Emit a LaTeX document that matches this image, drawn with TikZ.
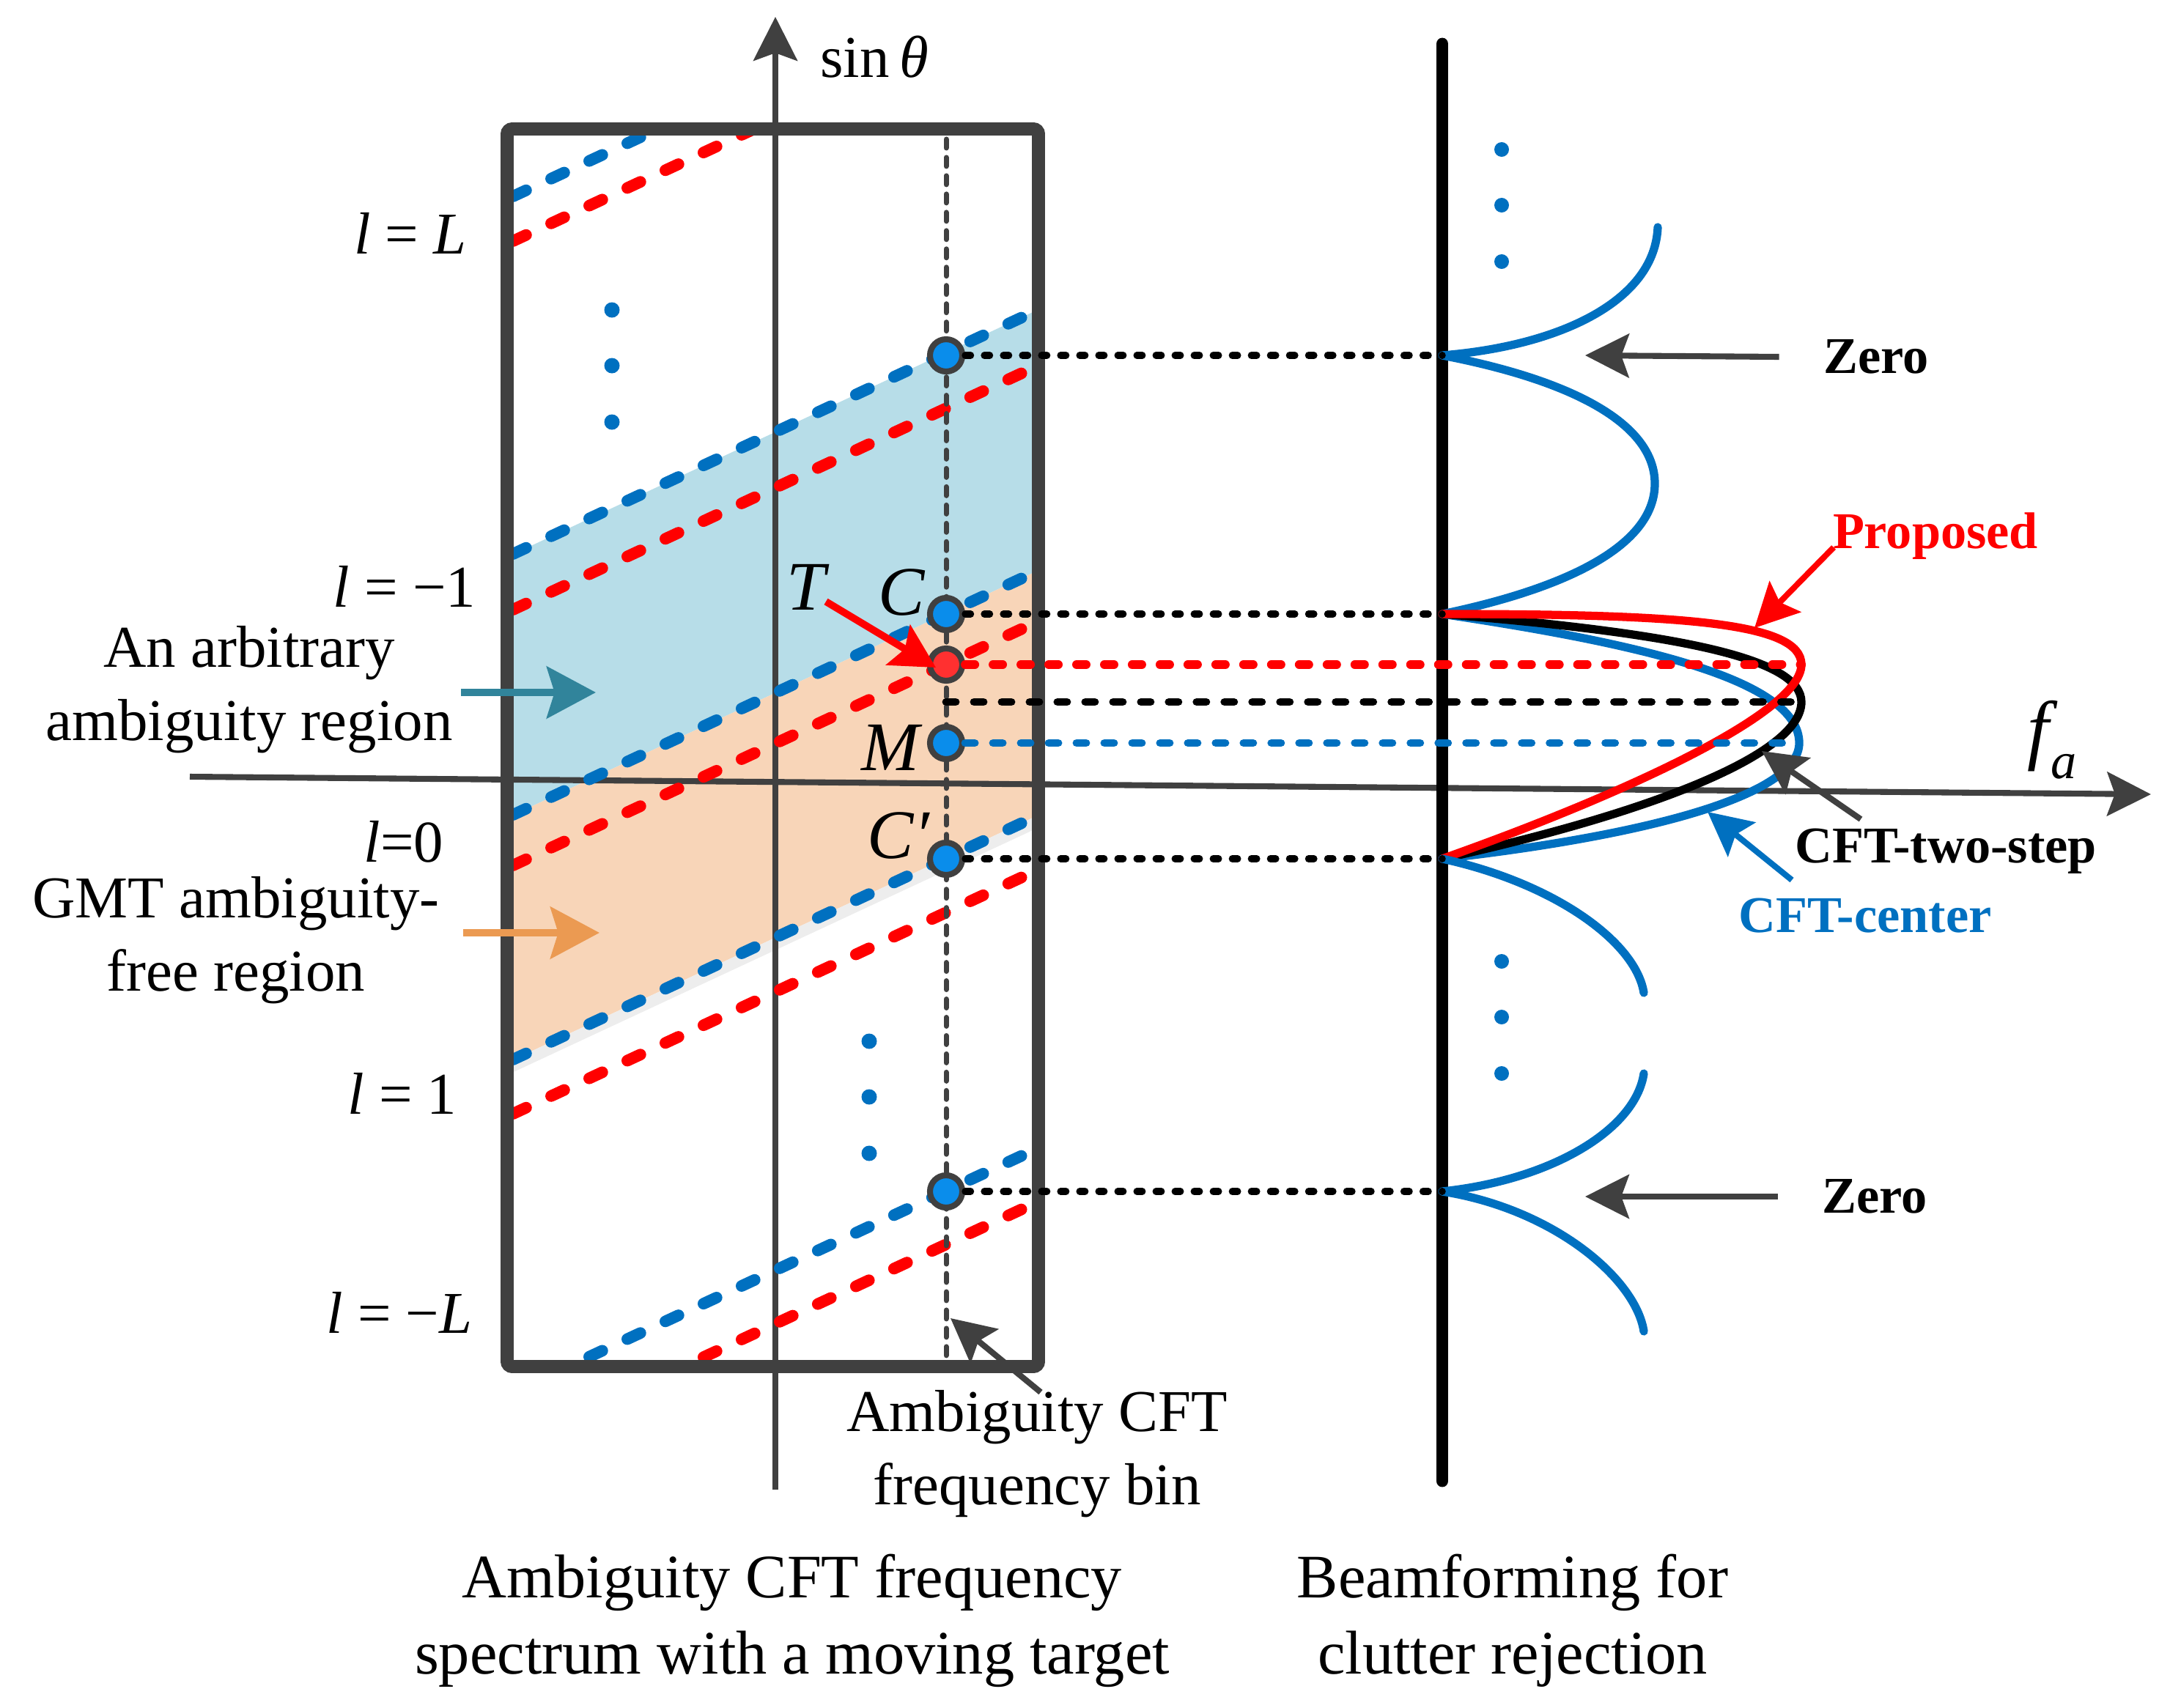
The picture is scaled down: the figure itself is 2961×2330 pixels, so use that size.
\documentclass[tikz,border=0pt]{standalone}
\usepackage{fontspec}
\setmainfont{Liberation Serif}
\usetikzlibrary{arrows.meta}

\definecolor{cBlue}{HTML}{0070C0}
\definecolor{cRed}{HTML}{FF0000}
\definecolor{cGray}{HTML}{404040}
\definecolor{cFillBlue}{HTML}{B7DDE8}
\definecolor{cFillOrange}{HTML}{F8D5B8}
\definecolor{cTeal}{HTML}{31849B}
\definecolor{cOrange}{HTML}{EB9A52}
\definecolor{cDotBlue}{HTML}{0A8DEB}
\definecolor{cDotRed}{HTML}{FF3030}

\newcommand\txtsize{\fontsize{23}{28.5}\selectfont}
\newcommand\capsize{\fontsize{24}{29.5}\selectfont}
\newcommand\keysize{\fontsize{20}{24}\selectfont\bfseries}
\newcommand\ptsize{\fontsize{27}{30}\selectfont\itshape}

\tikzset{
  ambline/.style={line width=4.5pt, dash pattern=on 5.6pt off 10.7pt, line cap=round},
  binline/.style={cGray, line width=2pt, dash pattern=on 3.4pt off 3.7pt, line cap=round},
  link/.style={line width=2.7pt, dash pattern=on 2.1pt off 5.3pt, line cap=round},
  peaklink/.style={line width=3.1pt, dash pattern=on 3.7pt off 7.1pt, line cap=round},
  lobe/.style={line width=3.2pt, line cap=round},
  grayarr/.style={cGray, line width=2.3pt, -{Stealth[length=17pt,width=17pt,inset=3pt]}},
  spot/.style={circle, draw=cGray, line width=2.3pt, minimum size=0.44cm, inner sep=0pt, fill=cDotBlue},
  lbl/.style={inner sep=0pt, font=\txtsize},
}

\begin{document}
\begin{tikzpicture}[x=0.01cm, y=-0.01cm]
  \useasboundingbox (0,0) rectangle (2961,2330);

  % regions and ambiguity lines inside the box
  \begin{scope}
    \clip (701,185) rectangle (1408,1856);
    \fill[cFillBlue] (690,761) -- (1420,421) -- (1420,777) -- (690,1117) -- cycle;
    \fill[cFillOrange] (690,1117) -- (1420,777) -- (1420,1111) -- (690,1451) -- cycle;
    \fill[black!7] (690,1451) -- (1420,1111) -- (1420,1128) -- (690,1468) -- cycle;
  \end{scope}

  % axes
  \draw[grayarr] (1058,2033) -- (1058,23);
  \draw[grayarr] (259,1060) -- (2935,1084);
  \node[lbl] (lblSin) at (1193,78) {sin\,{\itshape θ}};
  \node[inner sep=0pt] (lblFa) at (2800,1010)
    {\fontsize{30}{32}\selectfont\itshape f\kern1pt\raisebox{-9pt}{\fontsize{20}{22}\selectfont a}};

  \begin{scope}
    \clip (701,185) rectangle (1408,1856);
    \foreach \a/\c in {268/cBlue, 329/cRed, 756/cBlue, 832/cRed, 1112/cBlue,
                       1181/cRed, 1446/cBlue, 1520/cRed, 1900/cBlue, 1973/cRed}
      \draw[ambline, \c] (700,\a) -- (1412,{\a-331});
  \end{scope}

  % box
  \draw[cGray, line width=5.1pt, rounded corners=2pt] (692,176) rectangle (1417,1865);

  % ellipsis dots
  \foreach \y in {423,499,576} \fill[cBlue] (835,\y) circle (0.105cm);
  \foreach \y in {1421,1497,1574} \fill[cBlue] (1186,\y) circle (0.105cm);
  \foreach \y in {204,280,357,1312,1388,1465} \fill[cBlue] (2049,\y) circle (0.1cm);

  % frequency bin
  \coordinate (binTop) at (1291,190);
  \coordinate (binBot) at (1291,1852);
  \draw[binline] (binTop) -- (binBot);

  % beamforming
  \coordinate (z1) at (1968,485);
  \coordinate (z2) at (1968,838);
  \coordinate (z3) at (1968,1172);
  \coordinate (z4) at (1968,1626);
  \coordinate (pkRed) at (2458,907);
  \coordinate (pkBlack) at (2458,958);
  \coordinate (pkBlue) at (2455,1014);
  \draw[line width=4.8pt, line cap=round] (1968,60) -- (1968,2021);
  \draw[cBlue, lobe] (2262,310) .. controls (2258,410) and (2130,472) .. (z1);
  \draw[cBlue, lobe] (z1) .. controls (2150,520) and (2258,580) .. (2258,660)
    .. controls (2258,740) and (2150,800) .. (z2);
  \draw[cBlue, lobe] (z2) .. controls (2250,880) and (2455,930) .. (pkBlue)
    .. controls (2455,1085) and (2250,1140) .. (z3);
  \draw[lobe] (z2) .. controls (2300,865) and (2458,900) .. (pkBlack)
    .. controls (2458,1030) and (2250,1110) .. (z3);
  \draw[cRed, lobe] (z2) .. controls (2300,838) and (2458,850) .. (pkRed)
    .. controls (2458,975) and (2200,1090) .. (z3);
  \draw[cBlue, lobe] (z3) .. controls (2120,1205) and (2232,1285) .. (2243,1355);
  \draw[cBlue, lobe] (2243,1465) .. controls (2232,1540) and (2120,1610) .. (z4);
  \draw[cBlue, lobe] (z4) .. controls (2120,1650) and (2232,1745) .. (2243,1817);

  % points on the bin
  \node[spot] (pTop) at (1291,485) {};
  \node[spot] (pC) at (1291,838) {};
  \node[spot, fill=cDotRed] (pT) at (1291,907) {};
  \node[spot] (pM) at (1291,1014) {};
  \node[spot] (pCp) at (1291,1172) {};
  \node[spot] (pBot) at (1291,1626) {};
  \coordinate (bk0) at (1291,958);

  % projections
  \draw[link] (pTop) -- (z1);
  \draw[link] (pC) -- (z2);
  \draw[link] (pCp) -- (z3);
  \draw[link] (pBot) -- (z4);
  \draw[peaklink, cRed, line width=3.4pt] (pT) -- (pkRed);
  \draw[peaklink] (bk0) -- (pkBlack);
  \draw[peaklink, cBlue] (pM) -- (pkBlue);

  % point labels
  \node[inner sep=0pt, font=\ptsize] (lblT) at (1100,801) {T};
  \node[inner sep=0pt, font=\ptsize] (lblC) at (1230,808) {C};
  \node[inner sep=0pt, font=\ptsize] (lblM) at (1215,1020) {M};
  \node[inner sep=0pt, font=\ptsize] (lblCp) at (1226,1140) {C\char"2032};
  \coordinate (aT0) at (1127,821);
  \coordinate (aT1) at (1277,911);
  \draw[cRed, line width=2.8pt, -{Stealth[length=17pt,width=18pt,inset=3pt]}] (aT0) -- (aT1);

  % ambiguity index
  \node[lbl] (lblL) at (560,318) {{\itshape l} = {\itshape L}};
  \node[lbl] (lblm1) at (552,800) {{\itshape l} = −1};
  \node[lbl] (lbl0) at (551,1149) {{\itshape l}=0};
  \node[lbl] (lbl1) at (549,1492) {{\itshape l} = 1};
  \node[lbl] (lblmL) at (545,1791) {{\itshape l} = −{\itshape L}};

  % region labels
  \node[lbl, align=center] (lblArb) at (340,941) {An arbitrary\\ambiguity region};
  \node[lbl, align=center] (lblGMT) at (322,1283) {GMT ambiguity-\\free region};
  \coordinate (aArb0) at (629,945);
  \coordinate (aArb1) at (813,945);
  \coordinate (aGMT0) at (632,1273);
  \coordinate (aGMT1) at (818,1273);
  \draw[cTeal, line width=3.1pt, -{Stealth[length=19pt,width=20pt,inset=3pt]}] (aArb0) -- (aArb1);
  \draw[cOrange, line width=3.1pt, -{Stealth[length=19pt,width=20pt,inset=3pt]}] (aGMT0) -- (aGMT1);

  \node[lbl, align=center] (lblBin) at (1415,1984) {Ambiguity CFT\\frequency bin};
  \coordinate (aBin0) at (1420,1900);
  \coordinate (aBin1) at (1297,1799);
  \draw[grayarr] (aBin0) -- (aBin1);

  % curve labels
  \node[inner sep=0pt, font=\keysize] (zeroTop) at (2560,487) {Zero};
  \node[inner sep=0pt, font=\keysize] (zeroBot) at (2558,1633) {Zero};
  \coordinate (aZ1) at (2163,485);
  \coordinate (aZ2) at (2163,1633);
  \draw[grayarr] ([xshift=-0.6cm]zeroTop.west) -- (aZ1);
  \draw[grayarr] ([xshift=-0.6cm]zeroBot.west) -- (aZ2);

  \node[inner sep=0pt, font=\keysize, text=cRed] (lblProp) at (2641,732) {Proposed};
  \node[inner sep=0pt, font=\keysize] (lblTwo) at (2655,1162) {CFT-two-step};
  \node[inner sep=0pt, font=\keysize, text=cBlue] (lblCent) at (2545,1250) {CFT-center};
  \coordinate (aProp0) at (2502,747);
  \coordinate (aProp1) at (2394,857);
  \coordinate (aTwo0) at (2539,1118);
  \coordinate (aTwo1) at (2404,1025);
  \coordinate (aCent0) at (2445,1201);
  \coordinate (aCent1) at (2330,1108);
  \draw[grayarr, cRed] (aProp0) -- (aProp1);
  \draw[grayarr] (aTwo0) -- (aTwo1);
  \draw[grayarr, cBlue] (aCent0) -- (aCent1);

  % captions
  \node[inner sep=0pt, font=\capsize, align=center] (capLeft) at (1081,2212)
    {Ambiguity CFT frequency\\spectrum with a moving target};
  \node[inner sep=0pt, font=\capsize, align=center] (capRight) at (2064,2212)
    {Beamforming for\\clutter rejection};
\end{tikzpicture}
\end{document}
